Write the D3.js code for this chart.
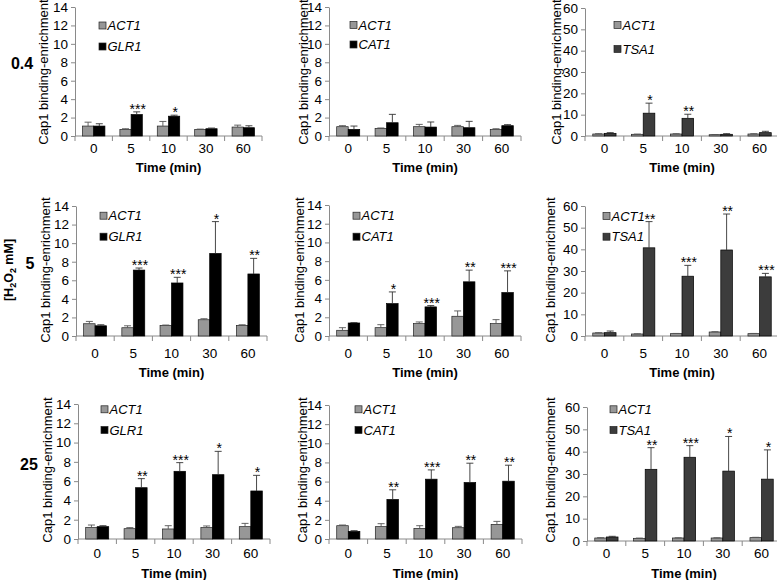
<!DOCTYPE html>
<html><head><meta charset="utf-8">
<script src="https://cdn.jsdelivr.net/npm/d3@7"></script>
<style>body{margin:0;background:#fff} svg{display:block} text{font-family:"Liberation Sans",Arial,sans-serif;fill:#000}</style>
</head><body><svg id="c" width="777" height="580"></svg>
<script>
// ---------- data ----------
const timepoints = ["0","5","10","30","60"];
const doses = ["0.4","5","25"];
const targetGenes = ["GLR1","CAT1","TSA1"];
const refGene = "ACT1";
const yMaxByGene = [14,14,60];
const yTicksSmall = [0,2,4,6,8,10,12,14];
const yTicksLarge = [0,10,20,30,40,50,60];
const xTitle = "Time (min)";
const yTitle = "Cap1 binding-enrichment";

// 0.4 mM
const glr1_04_act = [1.08,0.72,1.08,0.72,0.97], glr1_04_actErr = [0.42,0.07,0.50,0.03,0.21];
const glr1_04_val = [1.08,2.33,2.15,0.79,0.90], glr1_04_valErr = [0.25,0.29,0.11,0.07,0.21];
const glr1_04_sig = ["","***","*","",""];
const cat1_04_act = [1.01,0.83,1.01,1.01,0.69], cat1_04_actErr = [0.11,0.04,0.25,0.14,0.10];
const cat1_04_val = [0.72,1.44,0.97,0.90,1.12], cat1_04_valErr = [0.36,0.91,0.55,0.69,0.11];
const cat1_04_sig = ["","","","",""];
const tsa1_04_act = [0.94,0.80,0.94,0.60,0.94], tsa1_04_actErr = [0.15,0.10,0.15,0.10,0.15];
const tsa1_04_val = [1.25,10.7,8.3,0.8,1.57], tsa1_04_valErr = [0.32,4.7,1.9,0.3,0.63];
const tsa1_04_sig = ["","*","**","",""];
// 5 mM
const glr1_5_act = [1.32,0.89,1.14,1.75,1.14], glr1_5_actErr = [0.25,0.21,0.04,0.11,0.07];
const glr1_5_val = [1.10,7.10,5.71,8.89,6.68], glr1_5_valErr = [0.11,0.22,0.61,3.43,1.68];
const glr1_5_sig = ["","***","***","*","**"];
const cat1_5_act = [0.61,0.89,1.32,2.11,1.32], cat1_5_actErr = [0.28,0.32,0.18,0.57,0.43];
const cat1_5_val = [1.39,3.46,3.11,5.79,4.64], cat1_5_valErr = [0.04,1.25,0.14,1.25,2.32];
const cat1_5_sig = ["","*","***","**","***"];
const tsa1_5_act = [1.39,0.93,1.08,1.85,1.08], tsa1_5_actErr = [0.15,0.10,0.10,0.15,0.10];
const tsa1_5_val = [1.54,40.7,27.6,39.7,27.3], tsa1_5_valErr = [0.76,12.1,5.0,16.6,1.6];
const tsa1_5_sig = ["","**","***","**","***"];
// 25 mM
const glr1_25_act = [1.21,1.07,1.04,1.18,1.28], glr1_25_actErr = [0.24,0.11,0.34,0.17,0.34];
const glr1_25_val = [1.28,5.32,7.02,6.67,4.98], glr1_25_valErr = [0.10,0.94,0.90,2.42,1.62];
const glr1_25_sig = ["","**","***","*","*"];
const cat1_25_act = [1.39,1.29,1.11,1.18,1.53], cat1_25_actErr = [0.07,0.31,0.28,0.14,0.31];
const cat1_25_val = [0.80,4.13,6.25,5.90,6.04], cat1_25_valErr = [0.07,1.01,0.97,2.02,1.67];
const cat1_25_sig = ["","**","***","**","**"];
const tsa1_25_act = [1.35,1.20,1.35,1.35,1.50], tsa1_25_actErr = [0.15,0.10,0.10,0.10,0.15];
const tsa1_25_val = [1.8,32.1,37.5,31.3,27.7], tsa1_25_valErr = [0.3,9.7,5.2,15.5,13.1];
const tsa1_25_sig = ["","**","***","*","*"];

const panelData = [
  [[glr1_04_act,glr1_04_actErr,glr1_04_val,glr1_04_valErr,glr1_04_sig],
   [cat1_04_act,cat1_04_actErr,cat1_04_val,cat1_04_valErr,cat1_04_sig],
   [tsa1_04_act,tsa1_04_actErr,tsa1_04_val,tsa1_04_valErr,tsa1_04_sig]],
  [[glr1_5_act,glr1_5_actErr,glr1_5_val,glr1_5_valErr,glr1_5_sig],
   [cat1_5_act,cat1_5_actErr,cat1_5_val,cat1_5_valErr,cat1_5_sig],
   [tsa1_5_act,tsa1_5_actErr,tsa1_5_val,tsa1_5_valErr,tsa1_5_sig]],
  [[glr1_25_act,glr1_25_actErr,glr1_25_val,glr1_25_valErr,glr1_25_sig],
   [cat1_25_act,cat1_25_actErr,cat1_25_val,cat1_25_valErr,cat1_25_sig],
   [tsa1_25_act,tsa1_25_actErr,tsa1_25_val,tsa1_25_valErr,tsa1_25_sig]]
];

// ---------- layout (positions / styles) ----------
const bandX0 = [[75,329,585],[76,329,585],[78,329,587]];
const bandW  = [[187,192,194],[191,192,194],[192,193,194]];
const plotTop = [[7,7,8],[206,205,206],[404,405,407]];
const plotBot = [[136,136,136],[336,336,336],[539,539,541]];
const tickLabY = [148,353,553];
const xTitleY = [167,372,573];
const yTitleX = [[43,303,556],[45,299,550],[47,302,550]];
const yTitleY = [72,270,470];
const legX = [[99,350,614],[100,353,603],[101,355,610]];
const legY = [[[25.5,46.5],[25,44.5],[25,49]],[[215.7,236.7],[215.7,236.7],[216,236.7]],[[409.3,430],[409.3,430],[409.3,430]]];
const geneColor = ["#000000","#000000","#3c3c3c"];
const refColor = "#979797";
const axisColor = "#8a8a8a";

const svg = d3.select("#c");
svg.append("rect").attr("width",777).attr("height",580).attr("fill","#fff");

for (let r=0;r<3;r++){
  for (let c=0;c<3;c++){
    const [act,actErr,val,valErr,sig] = panelData[r][c];
    const x0 = bandX0[r][c], w = bandW[r][c];
    const x = d3.scaleBand().domain(timepoints).range([x0,x0+w]);
    const y = d3.scaleLinear().domain([0,yMaxByGene[c]]).range([plotBot[r][c],plotTop[r][c]]);
    const g = svg.append("g");
    const bw = x.bandwidth();
    const barW = bw*0.3;

    // y axis
    const ya = g.append("g").attr("transform",`translate(${x0},0)`)
      .call(d3.axisLeft(y).tickValues(c===2?yTicksLarge:yTicksSmall).tickSize(4).tickSizeOuter(0).tickPadding(3));
    ya.select(".domain").attr("stroke",axisColor);
    ya.selectAll(".tick line").attr("stroke",axisColor);
    ya.selectAll(".tick text").attr("font-size","13.5px").attr("fill","#000").attr("font-family",'"Liberation Sans",Arial,sans-serif');

    // x axis line + boundary ticks
    const yb = y(0);
    g.append("line").attr("x1",x0).attr("x2",x0+w).attr("y1",yb).attr("y2",yb).attr("stroke",axisColor);
    const bounds = timepoints.map(t=>x(t)).concat([x0+w]);
    g.selectAll(".bt").data(bounds).enter().append("line")
      .attr("x1",d=>d).attr("x2",d=>d).attr("y1",yb).attr("y2",yb+5).attr("stroke",axisColor);
    g.selectAll(".xl").data(timepoints).enter().append("text")
      .attr("x",d=>x(d)+bw/2).attr("y",tickLabY[r]).attr("dy","0.35em")
      .attr("text-anchor","middle").attr("font-size","13.5px").text(d=>d);
    g.append("text").attr("x",x0+w/2).attr("y",xTitleY[r]).attr("dy","0.35em")
      .attr("text-anchor","middle").attr("font-size","13px").attr("font-weight","bold").text(xTitle);
    g.append("text").attr("transform",`translate(${yTitleX[r][c]},${yTitleY[r]}) rotate(-90)`)
      .attr("dy","0.35em").attr("text-anchor","middle").attr("font-size","13px").text(yTitle);

    const rows = timepoints.map((t,i)=>({t,i}));
    // ref bars
    g.selectAll(".ra").data(rows).enter().append("rect")
      .attr("x",d=>x(d.t)+bw/2-barW).attr("width",barW)
      .attr("y",d=>y(act[d.i])).attr("height",d=>yb-y(act[d.i]))
      .attr("fill",refColor).attr("stroke","#222").attr("stroke-width",0.7);
    g.selectAll(".ga").data(rows).enter().append("rect")
      .attr("x",d=>x(d.t)+bw/2).attr("width",barW)
      .attr("y",d=>y(val[d.i])).attr("height",d=>yb-y(val[d.i]))
      .attr("fill",geneColor[c]).attr("stroke","#000").attr("stroke-width",0.7);
    // error bars
    const errs = [];
    rows.forEach(d=>{
      errs.push({cx:x(d.t)+bw/2-barW/2, v:act[d.i], e:actErr[d.i], col:"#555"});
      errs.push({cx:x(d.t)+bw/2+barW/2, v:val[d.i], e:valErr[d.i], col:"#333"});
    });
    g.selectAll(".ev").data(errs).enter().append("line")
      .attr("x1",d=>d.cx).attr("x2",d=>d.cx).attr("y1",d=>y(d.v)).attr("y2",d=>y(d.v+d.e))
      .attr("stroke",d=>d.col).attr("stroke-width",0.9);
    g.selectAll(".ec").data(errs).enter().append("line")
      .attr("x1",d=>d.cx-3.5).attr("x2",d=>d.cx+3.5).attr("y1",d=>y(d.v+d.e)).attr("y2",d=>y(d.v+d.e))
      .attr("stroke",d=>d.col).attr("stroke-width",0.9);
    // significance stars
    g.selectAll(".st").data(rows.filter(d=>sig[d.i])).enter().append("text")
      .attr("x",d=>x(d.t)+bw/2+barW/2+1).attr("y",d=>y(val[d.i]+valErr[d.i])+2)
      .attr("text-anchor","middle").attr("font-size","14px").text(d=>sig[d.i]);

    // legend
    const leg = [{name:refGene,col:refColor},{name:targetGenes[c],col:geneColor[c]}];
    leg.forEach((L,k)=>{
      const ly = legY[r][c][k];
      g.append("rect").attr("x",legX[r][c]).attr("y",ly-3.5).attr("width",7).attr("height",7)
        .attr("fill",L.col).attr("stroke","#222").attr("stroke-width",0.7);
      g.append("text").attr("x",legX[r][c]+8.5).attr("y",ly).attr("dy","0.35em")
        .attr("font-size","13px").attr("font-style","italic").text(L.name);
    });
  }
}

// row dose labels
const doseLabX = [22,30,29], doseLabY = [63,263,464];
doses.forEach((d,i)=>{
  svg.append("text").attr("x",doseLabX[i]).attr("y",doseLabY[i]).attr("dy","0.35em")
    .attr("text-anchor","middle").attr("font-size","16px").attr("font-weight","bold").text(d);
});
// [H2O2 mM]
const ht = svg.append("text").attr("transform","translate(9,270) rotate(-90)").attr("dy","0.35em")
  .attr("text-anchor","middle").attr("font-size","12.5px").attr("font-weight","bold");
ht.append("tspan").text("[H");
ht.append("tspan").attr("font-size","9px").attr("dy","3").text("2");
ht.append("tspan").attr("dy","-3").text("O");
ht.append("tspan").attr("font-size","9px").attr("dy","3").text("2");
ht.append("tspan").attr("dy","-3").text(" mM]");
</script></body></html>
